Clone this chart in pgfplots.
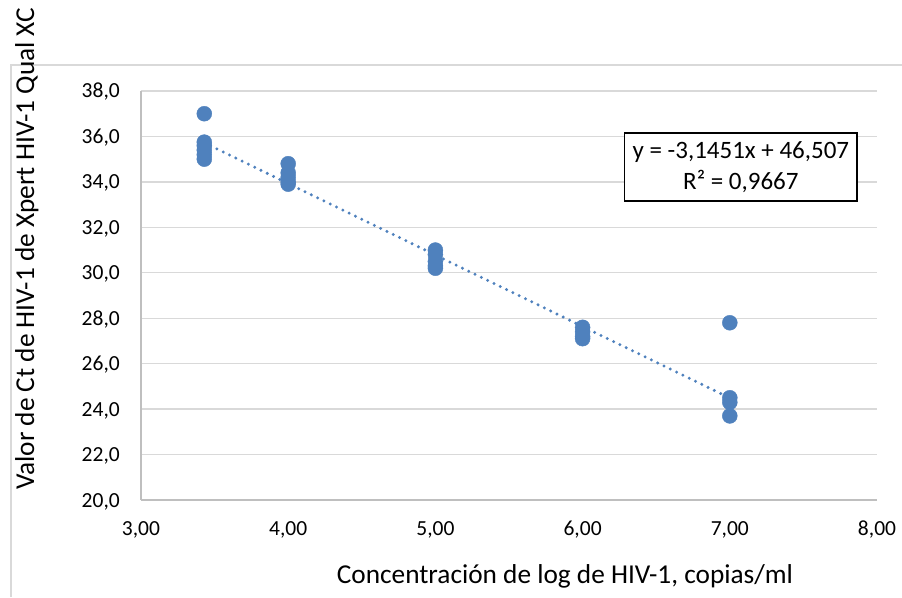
\documentclass[border=0pt]{standalone}
\usepackage{fontspec}
\setmainfont{Carlito}
\usepackage{pgfplots}
\pgfplotsset{compat=1.18}

\definecolor{ptblue}{HTML}{4F81BD}
\definecolor{gridgray}{HTML}{D9D9D9}
\definecolor{axisgray}{HTML}{BFBFBF}

\begin{document}
\begin{tikzpicture}
\useasboundingbox (0,0) rectangle (902pt,597pt);
% outer chart frame (cut at right and bottom)
\draw[gridgray, line width=1.3pt] (11pt,0pt) -- (11pt,532pt) -- (902pt,532pt);

\begin{axis}[
    at={(141pt,97pt)}, anchor=south west,
    scale only axis,
    width=736pt, height=409pt,
    xmin=3, xmax=8, ymin=20, ymax=38,
    xtick={3,4,5,6,7,8},
    ytick={20,22,24,26,28,30,32,34,36,38},
    axis x line*=bottom, axis y line*=left,
    axis line style={axisgray, line width=1.3pt, -},
    major tick length=0pt,
    ymajorgrids,
    grid style={gridgray, line width=1.3pt},
    font=\fontsize{21.5}{26}\selectfont,
    /pgf/number format/assume math mode=true,
    xticklabel style={/pgf/number format/.cd, fixed, fixed zerofill, precision=2, use comma, /tikz/.cd,
        anchor=base, yshift=-35pt},
    yticklabel style={/pgf/number format/.cd, fixed, fixed zerofill, precision=1, use comma, /tikz/.cd,
        anchor=base east, inner sep=0pt, xshift=-21pt, yshift=-7pt},
    xlabel={Concentración de log de HIV-1, copias/ml},
    ylabel={Valor de Ct de HIV-1 de Xpert HIV-1 Qual XC},
    label style={font=\fontsize{27.3}{32}\selectfont},
    xlabel style={at={(rel axis cs:0.576,-0.203)}, anchor=base},
    ylabel style={at={(rel axis cs:-0.155,0.614)}, anchor=center},
    clip=false,
]

% trend line y = -3,1451x + 46,507
\addplot[ptblue, line width=3.3pt, line cap=round, dash pattern=on 0pt off 7pt] coordinates {
    (3.43,35.72) (7,24.49)
};

\addplot[only marks, mark=*, mark size=7.5pt, color=ptblue, mark options={fill=ptblue, draw=ptblue}] coordinates {
    (3.43,37.0) (3.43,35.75) (3.43,35.6) (3.43,35.4) (3.43,35.2) (3.43,35.0)
    (4,34.8) (4,34.4) (4,34.2) (4,34.0) (4,33.9)
    (5,31.0) (5,30.8) (5,30.5) (5,30.3) (5,30.2)
    (6,27.6) (6,27.4) (6,27.2) (6,27.1)
    (7,27.8) (7,24.5) (7,24.3) (7,23.7)
};

\node[draw=black, line width=1.3pt, fill=white, align=center, minimum width=232pt, minimum height=68pt,
      inner sep=0pt, font=\fontsize{25}{31}\selectfont]
    at (rel axis cs:0.815,0.814) {y = -3,1451x + 46,507\\R² = 0,9667};

\end{axis}
\end{tikzpicture}
\end{document}
